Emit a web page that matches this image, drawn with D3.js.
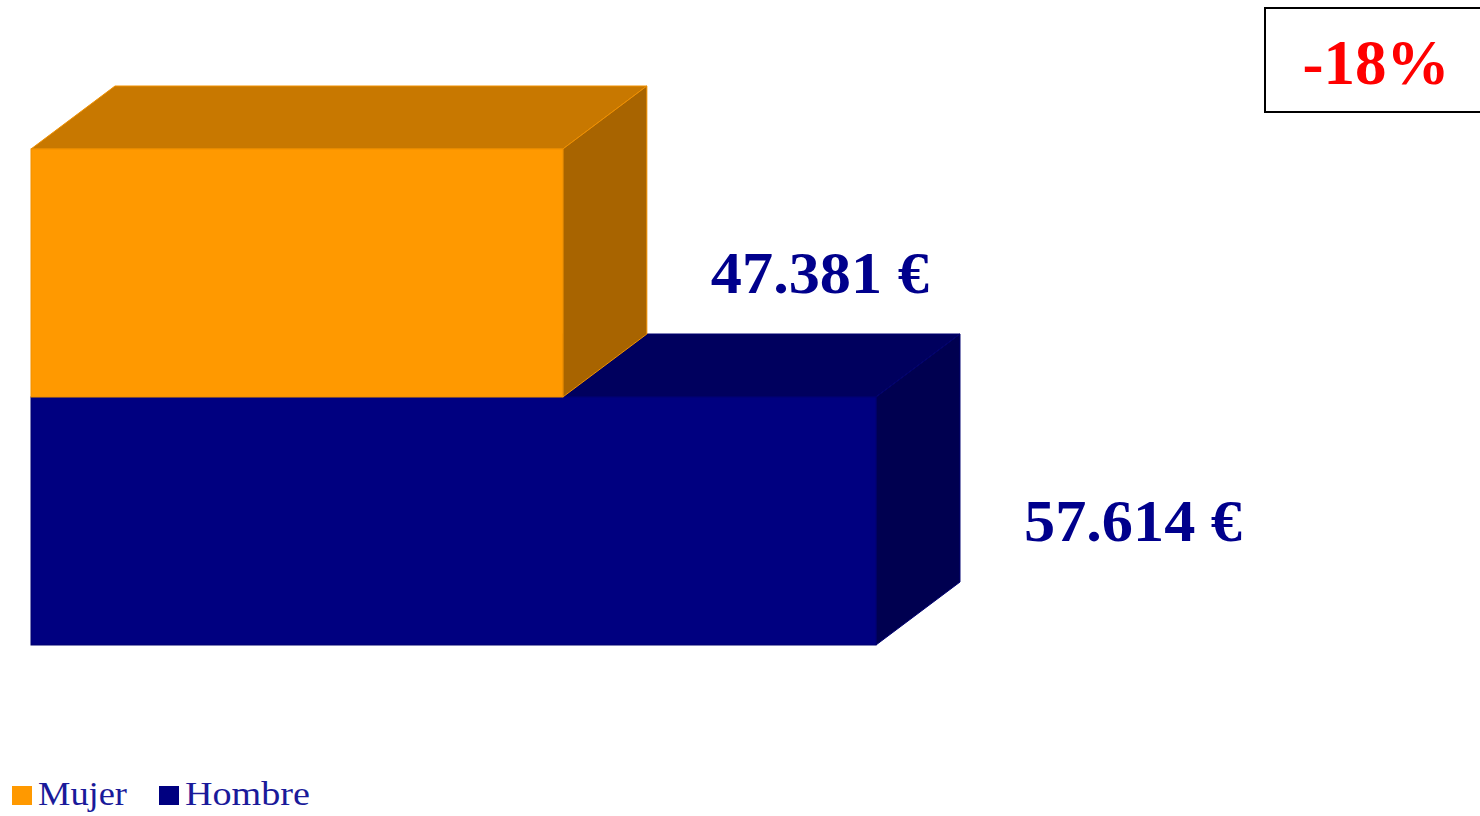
<!DOCTYPE html>
<html>
<head>
<meta charset="utf-8">
<script src="https://cdn.jsdelivr.net/npm/d3@7"></script>
<style>
  html, body { margin: 0; padding: 0; background: #ffffff; }
  svg { display: block; }
</style>
</head>
<body>
<svg id="chart" width="1480" height="816"></svg>
<script>
// ---- data ----
const categories = ["Mujer", "Hombre"];
const values = [47381, 57614];
const legendLabels = ["Mujer", "Hombre"];
const gapLabel = "-18%";
const axisDomain = [30000, 60000];

// ---- styling ----
const palette = {
  Mujer:  { front: "#FF9900", top: "#C87800", side: "#A86400", edge: "#F09000" },
  Hombre: { front: "#000080", top: "#00005E", side: "#000050", edge: "#000070" }
};
const depthX = 84, depthY = -63;

const svg = d3.select("#chart");
const x = d3.scaleLinear().domain(axisDomain).range([31, 949]);
const y = d3.scaleBand().domain(categories).range([149, 645]).padding(0);

const loc = d3.formatLocale({ decimal: ",", thousands: ".", grouping: [3], currency: ["", " €"] });
const fmt = loc.format("$,d");

const data = categories.map((c, i) => ({ cat: c, value: values[i] }));

// draw back-to-front: lower bar first
const order = data.slice().reverse();
const bars = svg.append("g").selectAll("g.bar").data(order).join("g").attr("class", "bar");

bars.each(function (d) {
  const g = d3.select(this);
  const x0 = x(axisDomain[0]), x1 = x(d.value);
  const y0 = y(d.cat), y1 = y0 + y.bandwidth();
  const c = palette[d.cat];
  g.append("path")
    .attr("d", `M${x0},${y0} L${x0 + depthX},${y0 + depthY} L${x1 + depthX},${y0 + depthY} L${x1},${y0} Z`)
    .attr("fill", c.top).attr("stroke", c.edge).attr("stroke-width", 1);
  g.append("path")
    .attr("d", `M${x1},${y0} L${x1 + depthX},${y0 + depthY} L${x1 + depthX},${y1 + depthY} L${x1},${y1} Z`)
    .attr("fill", c.side).attr("stroke", c.edge).attr("stroke-width", 1);
  g.append("rect")
    .attr("x", x0).attr("y", y0)
    .attr("width", x1 - x0).attr("height", y1 - y0)
    .attr("fill", c.front).attr("stroke", c.edge).attr("stroke-width", 1);
});

// value labels
svg.append("g").selectAll("text").data(data).join("text")
  .attr("x", d => x(d.value) + depthX + 64)
  .attr("y", d => y(d.cat) + y.bandwidth() / 2 + 20)
  .attr("font-family", "'Liberation Serif', 'Times New Roman', serif")
  .attr("font-weight", "bold")
  .attr("font-size", 60)
  .attr("textLength", 218)
  .attr("lengthAdjust", "spacingAndGlyphs")
  .attr("fill", "#00008C")
  .text(d => fmt(d.value));

// gap box
svg.append("rect")
  .attr("x", 1265).attr("y", 8)
  .attr("width", 240).attr("height", 104)
  .attr("fill", "#ffffff").attr("stroke", "#000000").attr("stroke-width", 2);
svg.append("text")
  .attr("x", 1376).attr("y", 84)
  .attr("text-anchor", "middle")
  .attr("font-family", "'Liberation Serif', 'Times New Roman', serif")
  .attr("font-weight", "bold")
  .attr("font-size", 63)
  .attr("fill", "#FF0000")
  .text(gapLabel);

// legend
const legendX = [12, 159];
const legendW = [89, 125];
const lg = svg.append("g").selectAll("g").data(legendLabels).join("g")
  .attr("transform", (d, i) => `translate(${legendX[i]},786)`);
lg.append("rect")
  .attr("width", 20).attr("height", 19)
  .attr("fill", d => palette[d].front);
lg.append("text")
  .attr("x", 26).attr("y", 19)
  .attr("font-family", "'Liberation Serif', 'Times New Roman', serif")
  .attr("font-size", 34)
  .attr("textLength", (d, i) => legendW[i])
  .attr("lengthAdjust", "spacingAndGlyphs")
  .attr("fill", "#1A1A9A")
  .text(d => d);
</script>
</body>
</html>
